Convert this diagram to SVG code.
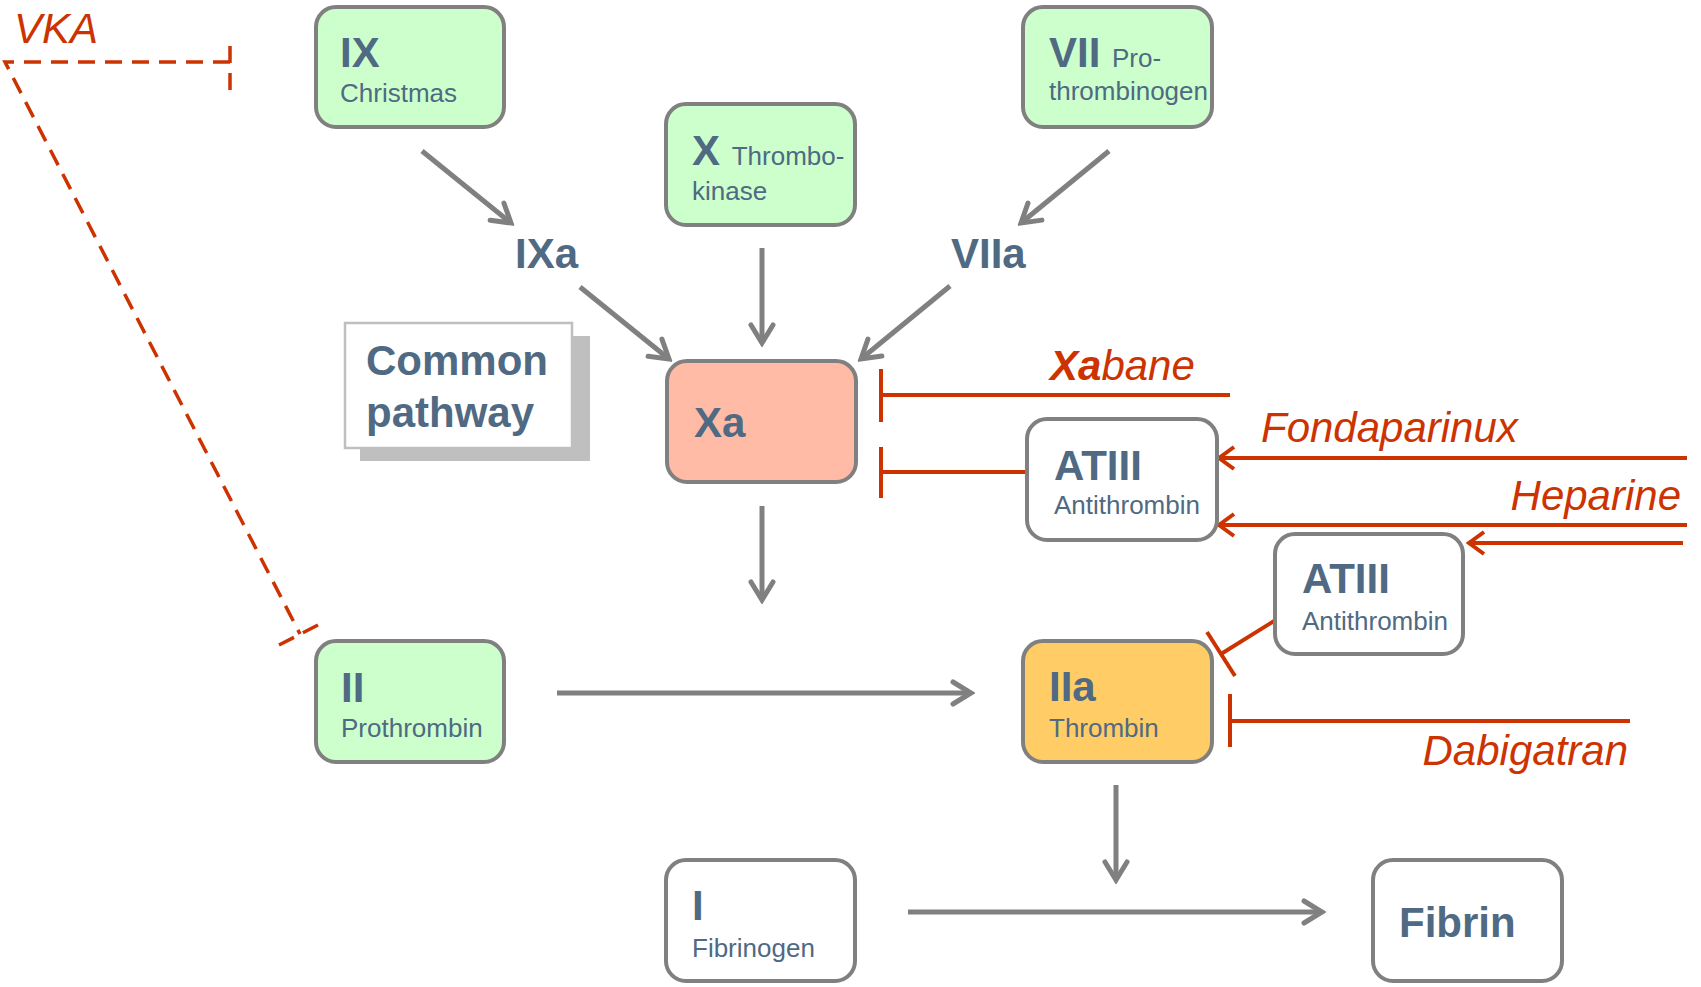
<svg xmlns="http://www.w3.org/2000/svg" width="1701" height="987" viewBox="0 0 1701 987">
<defs>
<style>
.box{stroke:#808080;stroke-width:4}
.g{fill:#ccffcc}
.w{fill:#ffffff}
.big{font-family:"Liberation Sans",Arial,sans-serif;font-weight:bold;font-size:42px;fill:#4f6a82}
.sub{font-family:"Liberation Sans",Arial,sans-serif;font-weight:normal;font-size:26px;fill:#4f6a82}
.drug{font-family:"Liberation Sans",Arial,sans-serif;font-style:italic;font-size:42px;fill:#cc3300}
.ga{stroke:#808080;stroke-width:5;fill:none;marker-end:url(#ah)}
.ra{stroke:#cc3300;stroke-width:4;fill:none;marker-end:url(#rh)}
.rl{stroke:#cc3300;stroke-width:4;fill:none}
.dash{stroke:#cc3300;stroke-width:3.5;fill:none;stroke-dasharray:17 10}
</style>
<marker id="ah" viewBox="-24 -14 28 28" refX="0" refY="0" markerWidth="28" markerHeight="28" markerUnits="userSpaceOnUse" orient="auto">
<path d="M-18,-11 L0,0 L-18,11" fill="none" stroke="#808080" stroke-width="5" stroke-linecap="round"/>
</marker>
<marker id="rh" viewBox="-22 -14 26 28" refX="0" refY="0" markerWidth="26" markerHeight="28" markerUnits="userSpaceOnUse" orient="auto">
<path d="M-15,-11 L0,0 L-15,11" fill="none" stroke="#cc3300" stroke-width="4"/>
</marker>
</defs>
<rect width="1701" height="987" fill="#ffffff"/>

<g id="connectors">
<line class="ga" x1="422" y1="151" x2="511" y2="223"/>
<line class="ga" x1="1109" y1="151" x2="1021" y2="223"/>
<line class="ga" x1="762" y1="248" x2="762" y2="343"/>
<line class="ga" x1="580" y1="287" x2="669" y2="359"/>
<line class="ga" x1="950" y1="286" x2="861" y2="359"/>
<line class="ga" x1="762" y1="506" x2="762" y2="600"/>
<line class="ga" x1="557" y1="693" x2="971" y2="693"/>
<line class="ga" x1="1116" y1="785" x2="1116" y2="880"/>
<line class="ga" x1="908" y1="912" x2="1322" y2="912"/>
<line class="rl" x1="1230" y1="395" x2="881" y2="395"/>
<line class="rl" x1="881" y1="369" x2="881" y2="422"/>
<line class="rl" x1="1027" y1="472" x2="881" y2="472"/>
<line class="rl" x1="881" y1="447" x2="881" y2="498"/>
<line class="ra" x1="1687" y1="458" x2="1219" y2="458"/>
<line class="ra" x1="1687" y1="525" x2="1219" y2="525"/>
<line class="ra" x1="1683" y1="543" x2="1469" y2="543"/>
<line class="rl" x1="1274" y1="621" x2="1221" y2="654"/>
<line class="rl" x1="1207" y1="632" x2="1235" y2="676"/>
<line class="rl" x1="1630" y1="721" x2="1230" y2="721"/>
<line class="rl" x1="1230" y1="694" x2="1230" y2="747"/>
<path class="dash" d="M230,62 L5,62 L300,634"/>
<line class="dash" x1="230" y1="46" x2="230" y2="90"/>
<line class="dash" x1="318" y1="625" x2="279" y2="645" stroke-dasharray="20 10"/>
</g>

<g id="vka"><text class="drug" x="14" y="43">VKA</text></g>
<g id="xabane"><text class="drug" x="1050" y="380"><tspan font-weight="bold">Xa</tspan>bane</text></g>
<g id="fondaparinux"><text class="drug" x="1261" y="442">Fondaparinux</text></g>
<g id="heparine"><text class="drug" x="1681" y="510" text-anchor="end">Heparine</text></g>
<g id="dabigatran"><text class="drug" x="1628" y="765" text-anchor="end">Dabigatran</text></g>

<g id="n-ix">
<rect class="box g" x="316" y="7" width="188" height="120" rx="20"/>
<text class="big" x="340" y="67">IX</text>
<text class="sub" x="340" y="102">Christmas</text>
</g>
<g id="n-vii">
<rect class="box g" x="1023" y="7" width="189" height="120" rx="20"/>
<text class="big" x="1049" y="67">VII <tspan class="sub">Pro-</tspan></text>
<text class="sub" x="1049" y="100">thrombinogen</text>
</g>
<g id="n-x">
<rect class="box g" x="666" y="104" width="189" height="121" rx="20"/>
<text class="big" x="692" y="165">X <tspan class="sub">Thrombo-</tspan></text>
<text class="sub" x="692" y="200">kinase</text>
</g>
<g id="n-ixa"><text class="big" x="515" y="268">IXa</text></g>
<g id="n-viia"><text class="big" x="951" y="268">VIIa</text></g>
<g id="n-common">
<rect x="360" y="336" width="230" height="125" fill="#bfbfbf"/>
<rect x="345" y="323" width="227" height="125" fill="#ffffff" stroke="#bfbfbf" stroke-width="2.5"/>
<text class="big" x="366" y="375">Common</text>
<text class="big" x="366" y="427">pathway</text>
</g>
<g id="n-xa">
<rect class="box" fill="#ffbba6" x="667" y="361" width="189" height="121" rx="20"/>
<text class="big" x="694" y="437">Xa</text>
</g>
<g id="n-atiii-1">
<rect class="box w" x="1027" y="419" width="190" height="121" rx="20"/>
<text class="big" x="1054" y="480">ATIII</text>
<text class="sub" x="1054" y="514">Antithrombin</text>
</g>
<g id="n-atiii-2">
<rect class="box w" x="1275" y="534" width="188" height="120" rx="20"/>
<text class="big" x="1302" y="593">ATIII</text>
<text class="sub" x="1302" y="630">Antithrombin</text>
</g>
<g id="n-ii">
<rect class="box g" x="316" y="641" width="188" height="121" rx="20"/>
<text class="big" x="341" y="702">II</text>
<text class="sub" x="341" y="737">Prothrombin</text>
</g>
<g id="n-iia">
<rect class="box" fill="#ffcc66" x="1023" y="641" width="189" height="121" rx="20"/>
<text class="big" x="1049" y="701">IIa</text>
<text class="sub" x="1049" y="737">Thrombin</text>
</g>
<g id="n-i">
<rect class="box w" x="666" y="860" width="189" height="121" rx="20"/>
<text class="big" x="692" y="920">I</text>
<text class="sub" x="692" y="957">Fibrinogen</text>
</g>
<g id="n-fibrin">
<rect class="box w" x="1373" y="860" width="189" height="121" rx="20"/>
<text class="big" x="1399" y="937">Fibrin</text>
</g>
</svg>
